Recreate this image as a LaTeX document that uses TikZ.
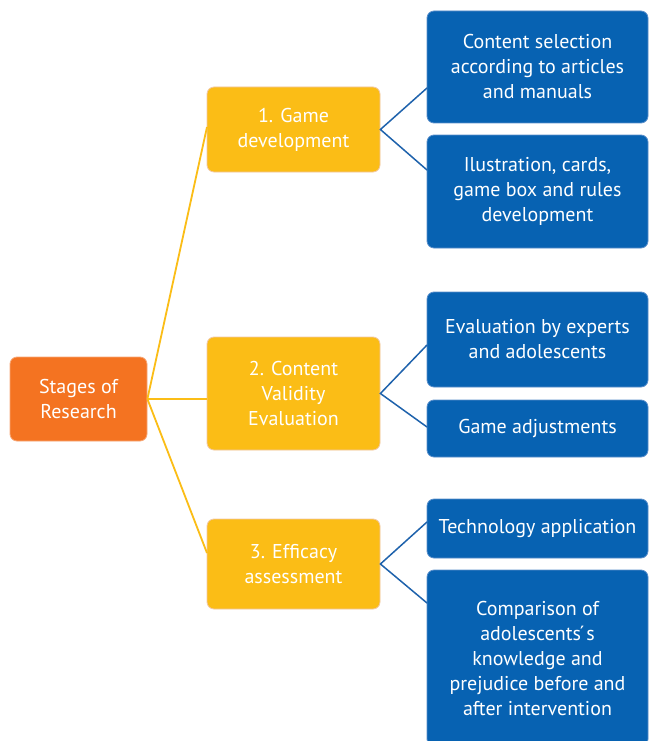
\documentclass[tikz,border=0pt]{standalone}
\usepackage{fontspec}
\setmainfont{PT Sans}
\definecolor{orfill}{HTML}{F47321}
\definecolor{ordraw}{HTML}{F7A878}
\definecolor{yefill}{HTML}{FBBD16}
\definecolor{yedraw}{HTML}{F2C8A6}
\definecolor{blfill}{HTML}{0762B2}
\definecolor{bldraw}{HTML}{5A8FCB}
\definecolor{bline}{HTML}{1E62AC}
\tikzset{
  boxbase/.style={rounded corners=7pt, align=center, text=white, inner sep=0pt,
    font=\fontsize{20}{25}\selectfont, line width=0.8pt},
  rootbox/.style={boxbase, fill=orfill, draw=ordraw},
  stagebox/.style={boxbase, fill=yefill, draw=yedraw, minimum width=173pt},
  taskbox/.style={boxbase, fill=blfill, draw=bldraw, minimum width=221pt},
  yline/.style={draw=yefill, line width=1.8pt},
  bline/.style={draw=bline, line width=1.5pt}
}
\begin{document}
\begin{tikzpicture}[x=1pt,y=-1pt]
\useasboundingbox (0,0) rectangle (649,741);
\clip (0,0) rectangle (649,741);
\fill[white] (0,0) rectangle (649,741);

% nodes
\node[rootbox, minimum width=137pt, minimum height=84pt] (root) at (78.5,399) {Stages of\\Research};
\node[stagebox, minimum height=85pt] (y1) at (293.5,129.5) {1. Game\\development};
\node[stagebox, minimum height=113pt] (y2) at (293.5,393.5) {2. Content\\Validity\\Evaluation};
\node[stagebox, minimum height=90pt] (y3) at (293.5,564) {3. Efficacy\\assessment};

\node[taskbox, minimum height=112pt] (b1) at (537.5,67) {Content selection\\according to articles\\and manuals};
\node[taskbox, minimum height=113pt] (b2) at (537.5,191.5) {Ilustration, cards,\\game box and rules\\development};
\node[taskbox, minimum height=95pt] (b3) at (537.5,339.5) {Evaluation by experts\\and adolescents};
\node[taskbox, minimum height=57pt] (b4) at (537.5,428.5) {Game adjustments};
\node[taskbox, minimum height=59pt] (b5) at (537.5,528.5) {Technology application};
\node[taskbox, minimum height=176pt] (b6) at (537.5,658) {Comparison of\\adolescents\'{}s\\knowledge and\\prejudice before and\\after intervention};

% connector end points on the left edges
\coordinate (y1in) at (207,127);
\coordinate (y2in) at (207,399);
\coordinate (y3in) at (207,553);
\coordinate (b1in) at (427,88);
\coordinate (b2in) at (427,170);
\coordinate (b3in) at (427,345);
\coordinate (b4in) at (427,427);
\coordinate (b5in) at (427,522);
\coordinate (b6in) at (427,603);

% connectors
\draw[yline] (root.east) -- (y1in);
\draw[yline] (root.east) -- (y2in);
\draw[yline] (root.east) -- (y3in);
\draw[bline] (b1in) -- (y1.east) -- (b2in);
\draw[bline] (b3in) -- (y2.east) -- (b4in);
\draw[bline] (b5in) -- (y3.east) -- (b6in);
\end{tikzpicture}
\end{document}
